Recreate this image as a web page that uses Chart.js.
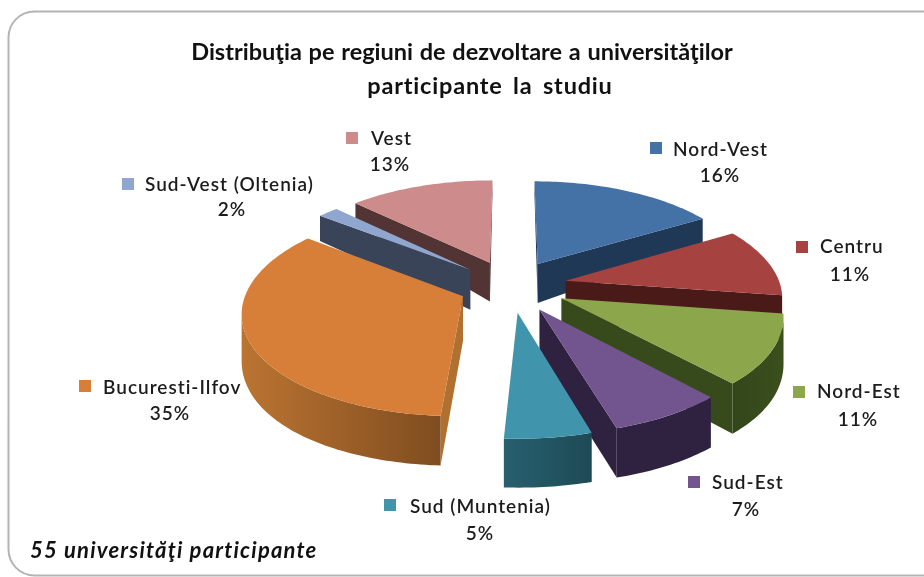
<!DOCTYPE html>
<html lang="ro">
<head>
<meta charset="utf-8">
<style>html,body{margin:0;padding:0;background:#fff}#w{width:924px;height:577px}</style>
<script src="https://cdn.jsdelivr.net/npm/chart.js@4"></script>
</head>
<body>
<div id="w"><canvas id="c" width="924" height="577"></canvas></div>
<script>
const categories = ['Nord-Vest','Centru','Nord-Est','Sud-Est','Sud (Muntenia)','Bucuresti-Ilfov','Sud-Vest (Oltenia)','Vest'];
const universities = [9,6,6,4,3,19,1,7];
const percentLabels = ['16%','11%','11%','7%','5%','35%','2%','13%'];
const titleLines = ['Distribuţia pe regiuni de dezvoltare a universităţilor','participante la studiu'];
const noteText = '55 universităţi participante';

const topColors = ['#4471a6','#a6423f','#8ba64b','#72558f','#4095ad','#d77f39','#8fa6cf','#cd8c8b'];
const cutColors = ['#1f3855','#4a1a18','#374a1b','#2f2240','#235460','#b0702f','#394459','#533434'];
const wallFrom  = ['#1f3855','#4a1a18','#3b4f1d','#2f2240','#1e4a55','#7f4d20','#394459','#533434'];
const wallTo    = ['#1f3855','#4a1a18','#33461a','#2f2240','#27606f','#bb7431','#394459','#533434'];
const explode   = [56,56,56,56,56,52,55,56];
const paintOrder = [7,0,6,5,1,2,3,4];

// label layout: [marker x, marker y, text x, text y, percent x, percent y]
const labelLayout = [
  [650,142,673,150,720,176],[796,241,820,247,850,275],[793,386,817,392,858,420],[688,476,712,483,746,510],
  [384,499,410,507,480,534],[79,380,103,388,170,414],[122,178,145,185,232,210],[346,132,371,139,390,165]
];
const view = {cx:511, cy:286, R:215, k:0.14, t:0.465};

function project(X,Y){
  const s = 1/(1 - view.k*Y/view.R);
  return {x:view.cx + X*s, y:view.cy + Y*view.t*s, n:Y/view.R};
}
function lower(p){ const d = 43 + 16*p.n - 9*p.n*p.n; return {x:p.x, y:p.y+Math.max(d,14)}; }
function quad(ctx,P,Q,col){
  const a=lower(P), b=lower(Q);
  ctx.fillStyle=col;
  ctx.beginPath(); ctx.moveTo(P.x,P.y); ctx.lineTo(Q.x,Q.y); ctx.lineTo(b.x,b.y); ctx.lineTo(a.x,a.y); ctx.closePath();
  ctx.fill();
}
const pie3d = {
  id:'pie3d',
  beforeDraw(chart){
    const ctx=chart.ctx;
    ctx.save();
    ctx.fillStyle='#fff'; ctx.fillRect(0,0,924,577);
    ctx.strokeStyle='#b4b4b4'; ctx.lineWidth=2;
    ctx.beginPath(); ctx.roundRect(8.5,11.5,1000,564,26); ctx.stroke();
    ctx.restore();
  },
  beforeDatasetDraw(chart,args){
    const ctx=chart.ctx, arcs=args.meta.data;
    ctx.save();
    ctx.lineJoin='round';
    paintOrder.forEach(i=>{
      const el=arcs[i], o=el.options, a0=el.startAngle, a1=el.endAngle;
      const D=o.offset, mid=(a0+a1)/2;
      const ox=Math.cos(mid)*D, oy=Math.sin(mid)*D;
      const apex=project(ox,oy);
      const n=Math.max(2,Math.ceil((a1-a0)/0.02)), rim=[];
      for(let j=0;j<=n;j++){
        const a=a0+(a1-a0)*j/n;
        rim.push(project(ox+Math.cos(a)*view.R, oy+Math.sin(a)*view.R));
      }
      if(rim[0].x<apex.x) quad(ctx,apex,rim[0],cutColors[i]);
      if(apex.x<rim[n].x) quad(ctx,rim[n],apex,cutColors[i]);
      const run=rim.filter((p,j)=>(j<n&&rim[j+1].x<p.x)||(j>0&&p.x<rim[j-1].x));
      if(run.length>1){
        const first=run[0], last=run[run.length-1];
        const g=ctx.createLinearGradient(first.x,0,last.x,0);
        g.addColorStop(0,wallFrom[i]); g.addColorStop(1,wallTo[i]);
        ctx.fillStyle=g;
        ctx.beginPath(); ctx.moveTo(first.x,first.y);
        run.forEach(p=>ctx.lineTo(p.x,p.y));
        run.slice().reverse().forEach(p=>{const q=lower(p);ctx.lineTo(q.x,q.y);});
        ctx.closePath(); ctx.fill();
      }
      ctx.fillStyle=o.backgroundColor;
      ctx.beginPath(); ctx.moveTo(apex.x,apex.y);
      rim.forEach(p=>ctx.lineTo(p.x,p.y));
      ctx.closePath(); ctx.fill();
    });
    ctx.restore();
    return false;
  },
  afterDraw(chart){
    const ctx=chart.ctx;
    ctx.save();
    ctx.textBaseline='middle';
    ctx.font='bold 23.5px Lato';
    ctx.letterSpacing='0px';
    ctx.wordSpacing='1px';
    ctx.fillStyle='#111';
    ctx.textAlign='center';
    ctx.fillText(titleLines[0],462,52);
    ctx.letterSpacing='0.8px';
    ctx.wordSpacing='4px';
    ctx.fillText(titleLines[1],490,86);
    ctx.wordSpacing='0px';
    ctx.font='600 19px Lato';
    ctx.letterSpacing='1px';
    categories.forEach((name,i)=>{
      const L=labelLayout[i];
      ctx.fillStyle=topColors[i];
      ctx.fillRect(L[0],L[1],12,12);
      ctx.fillStyle='#1c1c1c';
      ctx.textAlign='left'; ctx.fillText(name,L[2],L[3]);
      ctx.textAlign='center'; ctx.fillText(percentLabels[i],L[4],L[5]);
    });
    ctx.font='italic 700 22px Lato';
    ctx.letterSpacing='1.2px';
    ctx.textAlign='left';
    ctx.fillStyle='#111';
    ctx.fillText(noteText,30,551);
    ctx.restore();
  }
};
new Chart(document.getElementById('c'),{
  type:'pie',
  data:{labels:categories,datasets:[{data:universities,backgroundColor:topColors,borderWidth:0,offset:explode}]},
  plugins:[pie3d],
  options:{
    responsive:false,animation:false,
    plugins:{legend:{display:false},tooltip:{enabled:false},title:{display:false}}
  }
});
</script>
</body>
</html>
